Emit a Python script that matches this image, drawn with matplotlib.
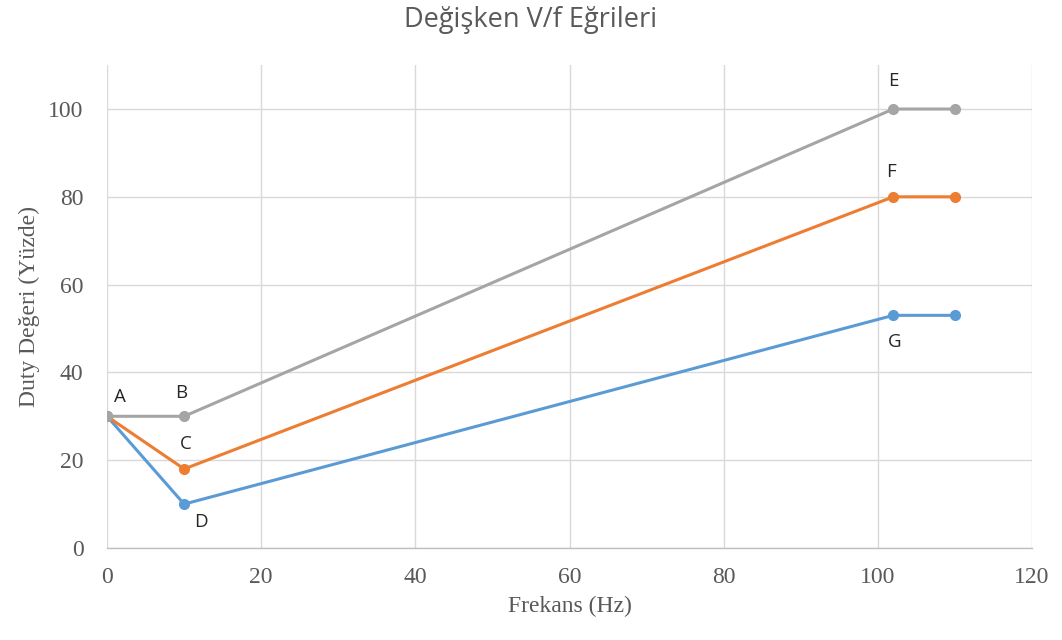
import matplotlib.pyplot as plt

# frequency (Hz) breakpoints shared by all three curves
freq = [0, 10, 102, 110]

# duty values (%) for each V/f curve
duty_high = [30, 30, 100, 100]
duty_mid = [30, 18, 80, 80]
duty_low = [30, 10, 53, 53]

# point labels: (text, x, y, offset in points)
point_labels = [
    ("A", 0, 30, (9, 14)),
    ("B", 10, 30, (-2, 17)),
    ("C", 10, 18, (1, 18)),
    ("D", 10, 10, (12, -13)),
    ("E", 102, 100, (0, 20)),
    ("F", 102, 80, (-2, 18)),
    ("G", 102, 53, (1, -19)),
]

text_grey = "#595959"
serif = ["Liberation Serif", "DejaVu Serif"]
sans = ["Open Sans", "DejaVu Sans"]

fig = plt.figure(figsize=(10.62, 6.4), dpi=100)
ax = fig.add_axes([0.1008, 0.14375, 0.8710, 0.7545])

ax.plot(freq, duty_low, color="#5B9BD5", lw=2.2, marker="o", ms=7, zorder=3)
ax.plot(freq, duty_mid, color="#ED7D31", lw=2.2, marker="o", ms=7, zorder=3)
ax.plot(freq, duty_high, color="#A5A5A5", lw=2.2, marker="o", ms=7, zorder=3)

for txt, x, y, off in point_labels:
    ax.annotate(txt, (x, y), xytext=off, textcoords="offset points",
                ha="center", va="center", fontsize=13.5,
                family=sans, color="#262626")

ax.set_xlim(0, 120)
ax.set_ylim(0, 110)
ax.set_xticks(range(0, 121, 20))
ax.set_yticks(range(0, 101, 20))
ax.grid(True, color="#D9D9D9", lw=1)
ax.set_axisbelow(True)

for side in ["top", "right", "left"]:
    ax.spines[side].set_visible(False)
ax.spines["bottom"].set_color("#BFBFBF")
ax.spines["bottom"].set_linewidth(1)

ax.tick_params(length=0, labelsize=17, labelcolor=text_grey)
ax.tick_params(axis="x", pad=14)
ax.tick_params(axis="y", pad=17)
for lab in ax.get_xticklabels() + ax.get_yticklabels():
    lab.set_family(serif)

ax.set_xlabel("Frekans (Hz)", fontsize=17, color=text_grey, family=serif, labelpad=5)
ax.set_ylabel("Duty Değeri (Yüzde)", fontsize=17, color=text_grey, family=serif, labelpad=6)

fig.text(0.5, 1 - 20 / 640, "Değişken V/f Eğrileri", ha="center", va="center",
         fontsize=19.5, family=sans, color=text_grey)

fig.savefig("out.png", dpi=100)
